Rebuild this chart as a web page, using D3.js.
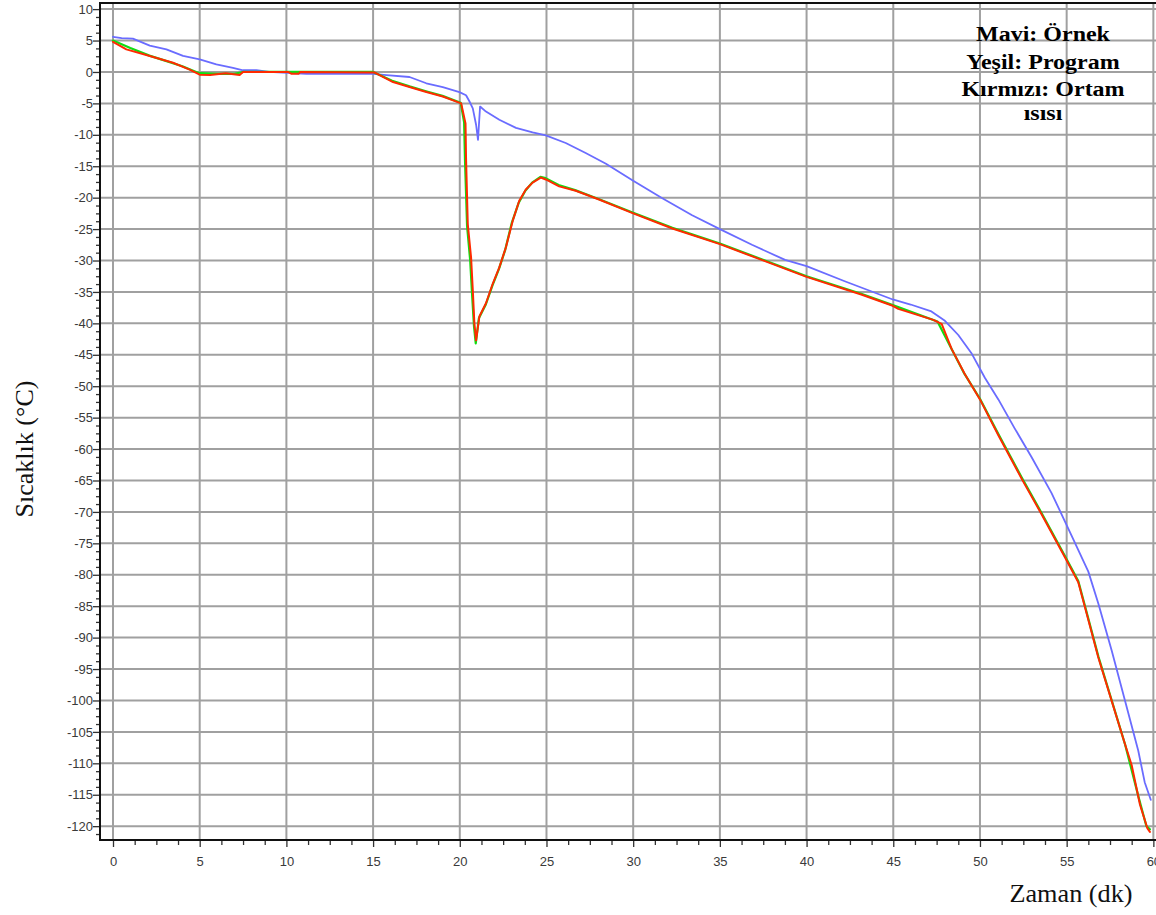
<!DOCTYPE html>
<html>
<head>
<meta charset="utf-8">
<script src="https://cdn.jsdelivr.net/npm/d3@7"></script>
<style>
  html, body { margin: 0; padding: 0; background: #fff; overflow: hidden; }
  svg { display: block; }
</style>
</head>
<body>
<svg id="chart" width="1156" height="915"></svg>
<script>
// Örnek (sample) temperature, °C over minutes
const sampleTime = [0, 0.5, 1.15, 2.12, 3.08, 4.04, 5.0, 5.96, 6.92, 7.5, 8.27, 9.0, 11.15, 15.0, 15.77,
  17.1, 18.07, 19.02, 19.98, 20.36, 20.56, 20.75, 20.94, 21.05, 21.17, 21.51, 22.28, 23.24, 24.2,
  24.96, 26.11, 27.26, 28.43, 30.0, 31.68, 33.4, 35.0, 36.85, 38.76, 40.0, 42.2, 44.97, 46.0, 47.2,
  47.98, 48.75, 49.5, 50.29, 51.06, 52.0, 52.98, 54.13, 55.29, 56.25, 56.83, 57.6, 58.37, 59.13,
  59.5, 59.85];
const sampleTemp = [5.6, 5.4, 5.3, 4.2, 3.6, 2.55, 2.0, 1.2, 0.65, 0.27, 0.27, 0.0, -0.3, -0.3, -0.5,
  -0.8, -1.8, -2.4, -3.2, -3.7, -4.7, -5.8, -8.4, -10.8, -5.5, -6.3, -7.6, -8.9, -9.6,
  -10.1, -11.3, -12.9, -14.6, -17.3, -20.1, -22.8, -25.0, -27.5, -29.9, -30.9, -33.3, -36.2, -37.0, -38.1,
  -39.6, -41.85, -44.7, -48.7, -52.1, -56.7, -61.3, -67.0, -73.8, -79.5, -84.6, -92.1, -100.1, -108.0,
  -113.0, -115.8];

// Program setpoint, °C over minutes
const programTime = [0, 1.0, 2.1, 3.0, 4.0, 4.8, 5.0, 6.0, 7.0, 7.5, 15.0, 16.1, 17.1, 18.1, 19.0,
  20.05, 20.25, 20.3, 20.42, 20.6, 20.7, 20.82, 20.92, 21.1, 21.5, 21.88, 22.25, 22.62, 23.0, 23.4,
  23.78, 24.17, 24.65, 24.95, 25.7, 26.65, 28.0, 30.0, 32.26, 35.0, 37.6, 40.0, 43.15, 44.97, 47.55,
  48.35, 49.1, 50.0, 51.06, 52.4, 53.56, 54.9, 55.67, 56.06, 56.83, 57.6, 58.37, 59.13, 59.6, 59.8];
const programTemp = [5.0, 3.8, 2.6, 1.8, 0.9, 0.0, -0.2, -0.3, -0.3, 0.0, 0.0, -1.4, -2.3, -3.1, -3.8,
  -4.9, -8.0, -14.0, -24.5, -30.0, -35.0, -40.5, -43.2, -39.2, -37.0, -34.0, -31.4, -28.3, -24.0, -20.8,
  -18.9, -17.6, -16.7, -16.9, -18.0, -18.8, -20.2, -22.4, -24.8, -27.3, -30.0, -32.5, -35.3, -37.1, -39.7,
  -44.0, -48.0, -52.0, -57.6, -64.5, -70.2, -77.0, -81.0, -85.0, -93.0, -100.0, -107.0, -115.2, -120.0, -120.5];

// Ortam ısısı (ambient) temperature, °C over minutes
const ambientTime = [0, 0.77, 2.12, 3.46, 4.42, 5.0, 5.6, 6.5, 7.3, 7.5, 10.1, 10.3, 10.7, 10.8, 15.1,
  16.15, 17.1, 18.07, 19.02, 20.08, 20.33, 20.36, 20.46, 20.65, 20.75, 20.84, 20.94, 21.13, 21.51,
  21.9, 22.28, 22.66, 23.05, 23.43, 23.81, 24.2, 24.67, 24.96, 25.73, 26.69, 28.03, 30.0, 32.26,
  35.0, 37.6, 40.0, 43.15, 44.97, 45.29, 47.31, 47.79, 48.37, 49.13, 50.0, 51.06, 52.4, 53.56,
  54.9, 55.67, 56.06, 56.83, 57.6, 58.37, 58.75, 59.23, 59.65, 59.8];
const ambientTemp = [4.8, 3.6, 2.55, 1.47, 0.38, -0.43, -0.5, -0.2, -0.5, 0.0, 0.0, -0.3, -0.3, 0.0, -0.1,
  -1.6, -2.4, -3.2, -3.9, -5.0, -8.2, -13.7, -24.2, -29.5, -34.7, -40.0, -42.7, -38.9, -36.8,
  -33.7, -31.1, -27.9, -23.7, -20.5, -18.7, -17.6, -16.8, -17.1, -18.2, -18.9, -20.3, -22.5, -24.9,
  -27.4, -30.1, -32.6, -35.4, -37.2, -37.7, -39.45, -40.1, -44.1, -48.1, -52.1, -57.8, -64.7, -70.4,
  -77.2, -81.2, -85.2, -93.2, -100.1, -107.0, -110.3, -116.6, -120.3, -120.9];

// Axis ticks and labels
const xTicks = [0, 5, 10, 15, 20, 25, 30, 35, 40, 45, 50, 55, 60];
const yTicks = [10, 5, 0, -5, -10, -15, -20, -25, -30, -35, -40, -45, -50, -55, -60, -65, -70,
  -75, -80, -85, -90, -95, -100, -105, -110, -115, -120];
const xTitle = "Zaman (dk)";
const yTitle = "Sıcaklık (°C)";
const legendLines = ["Mavi: Örnek", "Yeşil: Program", "Kırmızı: Ortam", "ısısı"];

const svg = d3.select("#chart");
const W = 1156, H = 915;
const plotLeft = 100, plotTop = 3, plotBottom = 840, plotRight = W;

svg.append("rect").attr("width", W).attr("height", H).attr("fill", "#fff");

const x = d3.scaleLinear().domain([-0.75, 61]).range([100, 1170.7]);
const y = d3.scaleLinear().domain([-122.2, 11.1]).range([840, 2.2]);

// grid
const grid = svg.append("g").attr("stroke", "#a0a0a0").attr("stroke-width", 2);
grid.selectAll("line.gx").data(xTicks).join("line")
  .attr("class", "gx")
  .attr("x1", d => x(d)).attr("x2", d => x(d))
  .attr("y1", plotTop).attr("y2", plotBottom);
grid.selectAll("line.gy").data(yTicks).join("line")
  .attr("class", "gy")
  .attr("x1", plotLeft).attr("x2", plotRight)
  .attr("y1", d => y(d)).attr("y2", d => y(d));

// minor tick positions, three between each labelled step
const xMinor = d3.range(0, 61, 1.25).filter(d => d % 5 !== 0 && d <= 60.5);
const yMinor = d3.range(-121.25, 11.2, 1.25).filter(d => Math.abs(d % 5) > 1e-6 && d < 11.1);

const tickFont = "'Liberation Sans', Arial, sans-serif";
const plainNumber = d => String(d);   // keeps an ASCII hyphen for negatives

// left axis
const yAxis = svg.append("g").attr("transform", `translate(${plotLeft},0)`)
  .call(d3.axisLeft(y).tickValues(yTicks).tickFormat(plainNumber).tickSize(7).tickPadding(0).tickSizeOuter(0));
const yAxisMinor = svg.append("g").attr("transform", `translate(${plotLeft},0)`)
  .call(d3.axisLeft(y).tickValues(yMinor).tickSize(4).tickFormat("").tickSizeOuter(0));

// bottom axis
const xAxis = svg.append("g").attr("transform", `translate(0,${plotBottom})`)
  .call(d3.axisBottom(x).tickValues(xTicks).tickFormat(plainNumber).tickSize(7).tickPadding(10).tickSizeOuter(0));
const xAxisMinor = svg.append("g").attr("transform", `translate(0,${plotBottom})`)
  .call(d3.axisBottom(x).tickValues(xMinor).tickSize(5).tickFormat("").tickSizeOuter(0));

[yAxis, yAxisMinor, xAxis, xAxisMinor].forEach(g => {
  g.select(".domain").remove();
  g.selectAll(".tick line").attr("stroke", "#333").attr("stroke-width", 1.3);
  g.selectAll(".tick text").attr("fill", "#3a3a3a")
    .style("font-family", tickFont).style("font-size", "13px");
});

// frame lines
const frame = svg.append("g").attr("stroke", "#111").attr("stroke-width", 2);
frame.append("line").attr("x1", plotLeft).attr("x2", plotRight).attr("y1", plotTop).attr("y2", plotTop);
frame.append("line").attr("x1", plotLeft).attr("x2", plotLeft).attr("y1", plotTop - 1).attr("y2", plotBottom + 1);
frame.append("line").attr("x1", plotLeft - 1).attr("x2", plotRight).attr("y1", plotBottom).attr("y2", plotBottom);

// series
const line = d3.line().x(d => x(d[0])).y(d => y(d[1]));
const series = [
  { t: sampleTime, v: sampleTemp, color: "#6a6cff", w: 1.8 },
  { t: programTime, v: programTemp, color: "#12dd12", w: 2.2 },
  { t: ambientTime, v: ambientTemp, color: "#ff2a00", w: 2.0 }
];
svg.append("g").attr("fill", "none").attr("stroke-linejoin", "round").attr("stroke-linecap", "round")
  .selectAll("path").data(series).join("path")
  .attr("d", s => line(d3.zip(s.t, s.v)))
  .attr("stroke", s => s.color)
  .attr("stroke-width", s => s.w);

// axis titles
svg.append("text")
  .attr("transform", "translate(1071,902) scale(1.05,1)")
  .attr("text-anchor", "middle")
  .style("font-family", "'Liberation Serif', 'Times New Roman', serif")
  .style("font-size", "25px").attr("fill", "#111")
  .text(xTitle);
svg.append("text")
  .attr("transform", "translate(33,449) rotate(-90)")
  .attr("text-anchor", "middle")
  .style("font-family", "'Liberation Serif', 'Times New Roman', serif")
  .style("font-size", "26px").attr("fill", "#111")
  .text(yTitle);

// series key
const keyBaselines = [41.3, 68.7, 96.3, 119.7];
svg.append("g").selectAll("text").data(legendLines).join("text")
  .attr("transform", (d, i) => `translate(1043,${keyBaselines[i]}) scale(1.2,1)`)
  .attr("text-anchor", "middle")
  .style("font-family", "'Liberation Serif', 'Times New Roman', serif")
  .style("font-weight", "bold").style("font-size", "20px").attr("fill", "#000")
  .text(d => d);
</script>
</body>
</html>
